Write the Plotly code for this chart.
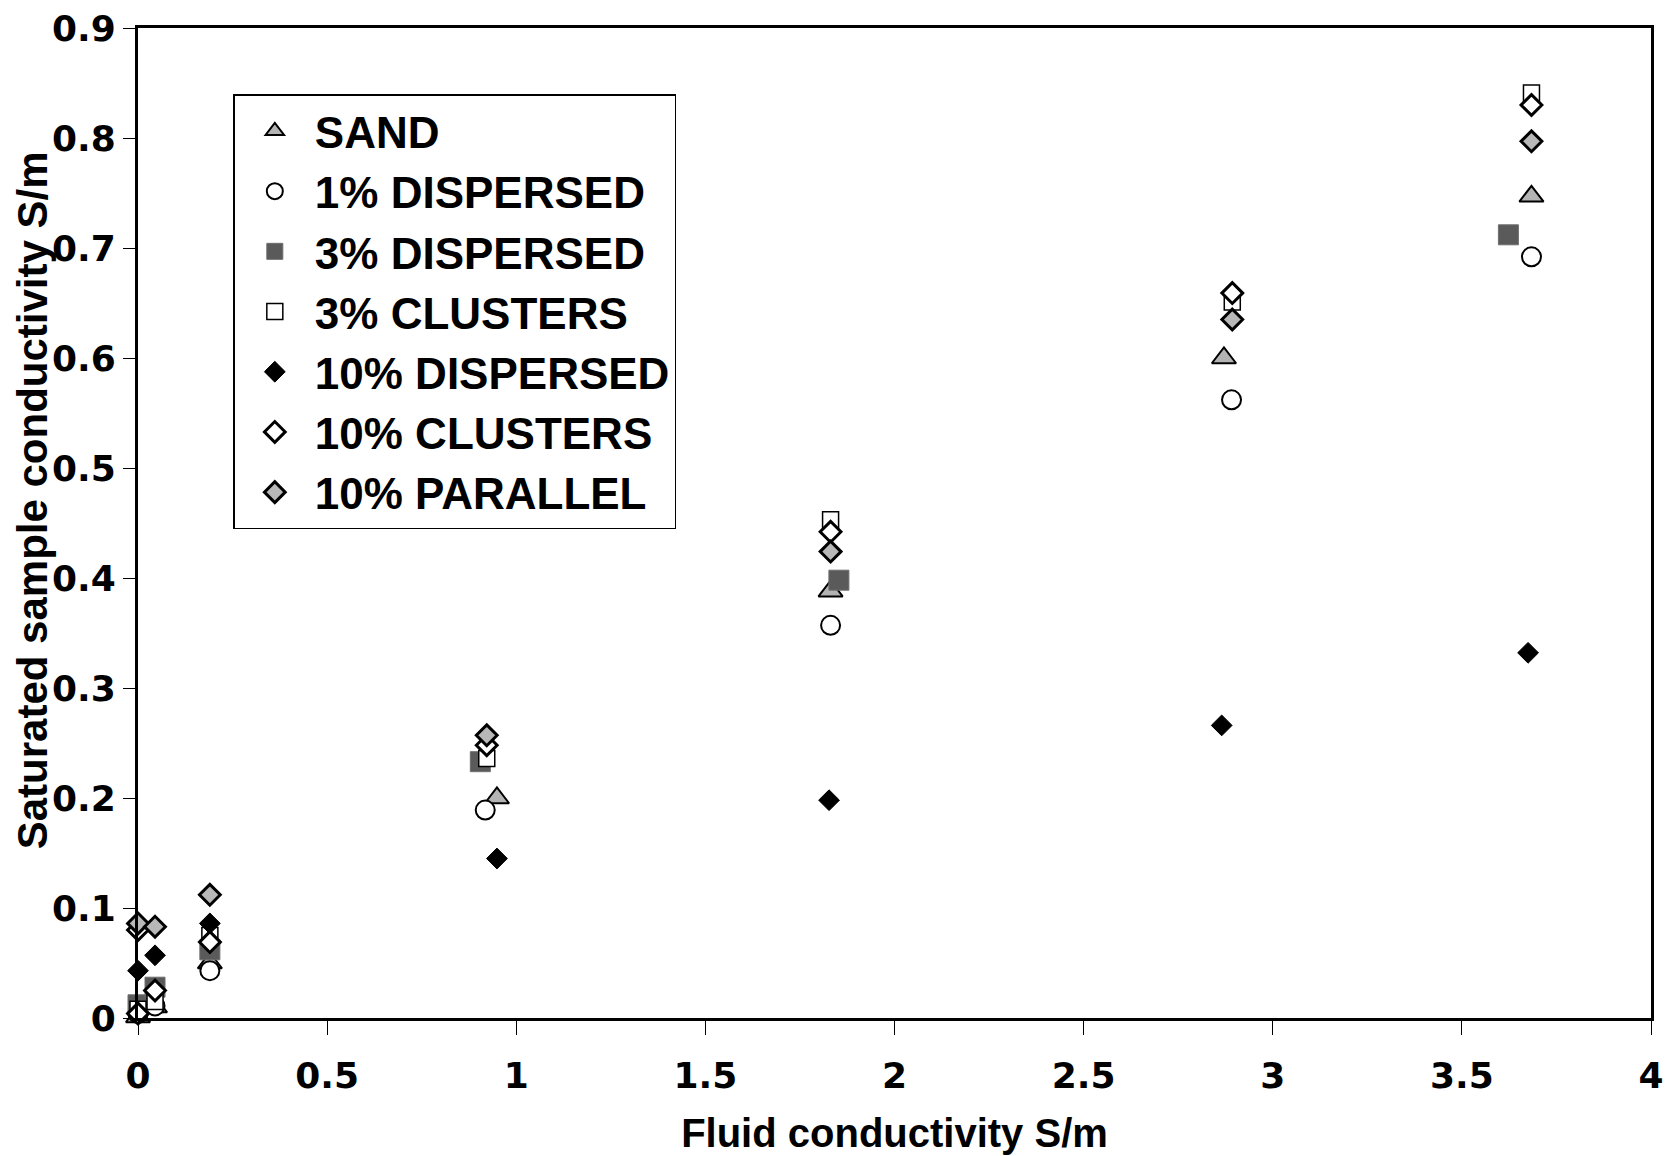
import plotly.graph_objects as go

# ---- data ----
series_names = ["SAND", "1% DISPERSED", "3% DISPERSED", "3% CLUSTERS",
                "10% DISPERSED", "10% CLUSTERS", "10% PARALLEL"]

sand_x = [0.0, 0.045, 0.19, 0.949, 1.831, 2.871, 3.684]
sand_y = [0.001, 0.010, 0.050, 0.200, 0.388, 0.600, 0.747]

disp1_x = [0.0, 0.045, 0.19, 0.918, 1.831, 2.891, 3.684]
disp1_y = [0.004, 0.011, 0.043, 0.189, 0.357, 0.562, 0.692]

disp3_x = [0.0, 0.045, 0.19, 0.905, 1.853, 3.623]
disp3_y = [0.012, 0.028, 0.062, 0.233, 0.398, 0.712]

clus3_x = [0.0, 0.045, 0.19, 0.922, 1.831, 2.893, 3.684]
clus3_y = [0.008, 0.015, 0.075, 0.236, 0.453, 0.651, 0.841]

disp10_x = [0.0, 0.045, 0.19, 0.949, 1.827, 2.865, 3.675]
disp10_y = [0.043, 0.057, 0.086, 0.145, 0.198, 0.266, 0.332]

clus10_x = [0.0, 0.0, 0.045, 0.19, 0.922, 1.831, 2.893, 3.684]
clus10_y = [0.004, 0.080, 0.025, 0.069, 0.248, 0.442, 0.659, 0.830]

par10_x = [0.0, 0.045, 0.19, 0.922, 1.831, 2.893, 3.684]
par10_y = [0.086, 0.083, 0.112, 0.257, 0.424, 0.635, 0.797]

x_tick_vals = [0, 0.5, 1, 1.5, 2, 2.5, 3, 3.5, 4]
x_tick_text = ["0", "0.5", "1", "1.5", "2", "2.5", "3", "3.5", "4"]
y_tick_vals = [0, 0.1, 0.2, 0.3, 0.4, 0.5, 0.6, 0.7, 0.8, 0.9]
y_tick_text = ["0", "0.1", "0.2", "0.3", "0.4", "0.5", "0.6", "0.7", "0.8", "0.9"]

x_title = "Fluid conductivity S/m"
y_title = "Saturated sample conductivity S/m"

# ---- styles ----
styles = [
    dict(symbol="triangle-up", size=21, color="#b4b4b4", line=dict(color="black", width=2)),
    dict(symbol="circle", size=19, color="white", line=dict(color="black", width=2)),
    dict(symbol="square", size=20, color="#5a5a5a", line=dict(color="#6e6e6e", width=1)),
    dict(symbol="square", size=16, color="white", line=dict(color="black", width=1.5)),
    dict(symbol="diamond", size=16, color="black", line=dict(color="black", width=1)),
    dict(symbol="diamond", size=16, color="white", line=dict(color="black", width=3)),
    dict(symbol="diamond", size=16, color="#b8b8b8", line=dict(color="black", width=3)),
]
xs = [sand_x, disp1_x, disp3_x, clus3_x, disp10_x, clus10_x, par10_x]
ys = [sand_y, disp1_y, disp3_y, clus3_y, disp10_y, clus10_y, par10_y]

fig = go.Figure()
for name, x, y, st in zip(series_names, xs, ys, styles):
    fig.add_trace(go.Scatter(x=x, y=y, mode="markers", name=name,
                             marker=st, cliponaxis=False))

helv = "Liberation Sans, Arial, sans-serif"
wide = "DejaVu Sans, Verdana, sans-serif"

fig.update_layout(
    width=1672, height=1156,
    paper_bgcolor="white", plot_bgcolor="white",
    margin=dict(l=130, r=29, t=20, b=146),
    font=dict(family=helv, color="black"),
    showlegend=True,
    legend=dict(
        x=0.063, y=0.933, xanchor="left", yanchor="top",
        bgcolor="white", bordercolor="black", borderwidth=1.5,
        font=dict(family=helv, size=44, color="black", weight="bold"),
        itemsizing="trace", itemwidth=70,
    ),
    xaxis=dict(
        range=[0, 4], tickvals=x_tick_vals, ticktext=x_tick_text,
        showgrid=False, zeroline=False, automargin=False,
        showline=True, linecolor="black", linewidth=3, mirror=True,
        ticks="outside", ticklen=14, tickwidth=1, tickcolor="black",
        ticklabelstandoff=10, ticklabeloverflow="allow",
        tickfont=dict(family=wide, size=36, weight="bold"),
        title=dict(text=x_title, standoff=24,
                   font=dict(family=helv, size=40, weight="bold")),
    ),
    yaxis=dict(
        range=[0, 0.9], tickvals=y_tick_vals, ticktext=y_tick_text,
        showgrid=False, zeroline=False, automargin=False,
        showline=True, linecolor="black", linewidth=3, mirror=True,
        ticks="outside", ticklen=12, tickwidth=1, tickcolor="black",
        ticklabeloverflow="allow",
        tickfont=dict(family=wide, size=36, weight="bold"),
    ),
    annotations=[dict(
        text=y_title, textangle=-90, showarrow=False,
        xref="paper", yref="paper", x=-0.070, y=0.523,
        xanchor="center", yanchor="middle",
        font=dict(family=helv, size=42, weight="bold", color="black"),
    )],
)

fig.write_html("out.html")
